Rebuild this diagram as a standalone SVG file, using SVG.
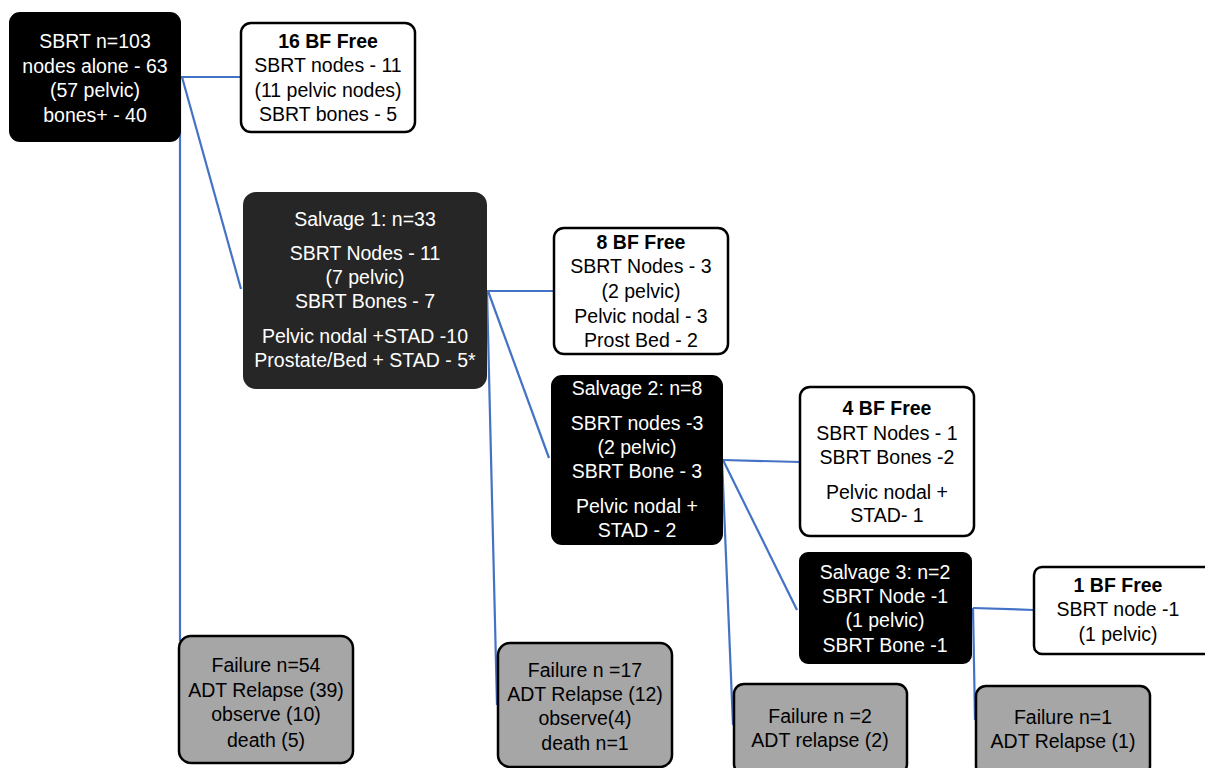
<svg xmlns="http://www.w3.org/2000/svg" width="1205" height="768" viewBox="0 0 1205 768">
<style>
text{font-family:"Liberation Sans",Arial,sans-serif;font-size:19.5px;text-anchor:middle}
.w text{fill:#fff}
.k text{fill:#000}
.b{font-weight:bold}
.dark{fill:#000;stroke:#000;stroke-width:2}
.dark2{fill:#262626;stroke:#262626;stroke-width:2}
.white{fill:#fff;stroke:#000;stroke-width:2.5}
.fail{fill:#a6a6a6;stroke:#000;stroke-width:2.5}
.c{stroke:#4472c4;stroke-width:2.2;fill:none}
</style>
<rect width="1205" height="768" fill="#fff"/>
<g id="connectors">
<path class="c" d="M181,77 H241"/>
<path class="c" d="M182,77 L241,289"/>
<path class="c" d="M180,77 V641"/>
<path class="c" d="M487,291 H554"/>
<path class="c" d="M488,291 L549,458"/>
<path class="c" d="M487,291 L497,705"/>
<path class="c" d="M723,460 L800,462"/>
<path class="c" d="M723,460 L797,610"/>
<path class="c" d="M722,460 L733,725"/>
<path class="c" d="M973,608 L1034,610"/>
<path class="c" d="M973,608 L975,720"/>
</g>
<g id="n-sbrt" class="w">
<rect class="dark" x="10" y="13" width="170" height="128" rx="10"/>
<text x="95" y="48">SBRT n=103</text>
<text x="95" y="73">nodes alone - 63</text>
<text x="95" y="97">(57 pelvic)</text>
<text x="95" y="122">bones+ - 40</text>
</g>
<g id="n-bf16" class="k">
<rect class="white" x="241" y="23" width="174" height="109" rx="10"/>
<text x="328" y="48" class="b">16 BF Free</text>
<text x="328" y="72">SBRT nodes - 11</text>
<text x="328" y="97">(11 pelvic nodes)</text>
<text x="328" y="121">SBRT bones - 5</text>
</g>
<g id="n-salv1" class="w">
<rect class="dark2" x="244" y="193" width="242" height="195" rx="12"/>
<text x="365" y="226">Salvage 1: n=33</text>
<text x="365" y="260">SBRT Nodes - 11</text>
<text x="365" y="284">(7 pelvic)</text>
<text x="365" y="308">SBRT Bones - 7</text>
<text x="365" y="343">Pelvic nodal +STAD -10</text>
<text x="365" y="367">Prostate/Bed + STAD - 5*</text>
</g>
<g id="n-bf8" class="k">
<rect class="white" x="554" y="228" width="174" height="126" rx="10"/>
<text x="641" y="249" class="b">8 BF Free</text>
<text x="641" y="273">SBRT Nodes - 3</text>
<text x="641" y="298">(2 pelvic)</text>
<text x="641" y="323">Pelvic nodal - 3</text>
<text x="641" y="347">Prost Bed - 2</text>
</g>
<g id="n-salv2" class="w">
<rect class="dark" x="552" y="376" width="170" height="168" rx="10"/>
<text x="637" y="395">Salvage 2: n=8</text>
<text x="637" y="430">SBRT nodes -3</text>
<text x="637" y="454">(2 pelvic)</text>
<text x="637" y="478">SBRT Bone - 3</text>
<text x="637" y="513">Pelvic nodal +</text>
<text x="637" y="537">STAD - 2</text>
</g>
<g id="n-bf4" class="k">
<rect class="white" x="800" y="387" width="174" height="149" rx="10"/>
<text x="887" y="415" class="b">4 BF Free</text>
<text x="887" y="440">SBRT Nodes - 1</text>
<text x="887" y="464">SBRT Bones -2</text>
<text x="887" y="499">Pelvic nodal  +</text>
<text x="887" y="522">STAD- 1</text>
</g>
<g id="n-salv3" class="w">
<rect class="dark" x="800" y="553" width="171" height="110" rx="8"/>
<text x="885" y="579">Salvage 3: n=2</text>
<text x="885" y="603">SBRT  Node -1</text>
<text x="885" y="627">(1 pelvic)</text>
<text x="885" y="652">SBRT Bone -1</text>
</g>
<g id="n-bf1" class="k">
<rect class="white" x="1034" y="567" width="180" height="87" rx="8"/>
<text x="1118" y="592" class="b">1 BF Free</text>
<text x="1118" y="616">SBRT node -1</text>
<text x="1118" y="641">(1 pelvic)</text>
</g>
<g id="n-fail1" class="k">
<rect class="fail" x="179" y="636" width="174" height="127" rx="12"/>
<text x="266" y="672">Failure n=54</text>
<text x="266" y="697">ADT Relapse (39)</text>
<text x="266" y="721">observe (10)</text>
<text x="266" y="747">death (5)</text>
</g>
<g id="n-fail2" class="k">
<rect class="fail" x="498" y="643" width="174" height="124" rx="12"/>
<text x="585" y="677">Failure n =17</text>
<text x="585" y="701">ADT Relapse (12)</text>
<text x="585" y="725">observe(4)</text>
<text x="585" y="750">death n=1</text>
</g>
<g id="n-fail3" class="k">
<rect class="fail" x="734" y="684" width="173" height="90" rx="10"/>
<text x="820" y="723">Failure n =2</text>
<text x="820" y="747">ADT relapse (2)</text>
</g>
<g id="n-fail4" class="k">
<rect class="fail" x="976" y="686" width="174" height="90" rx="10"/>
<text x="1063" y="724">Failure n=1</text>
<text x="1063" y="748">ADT Relapse (1)</text>
</g>
</svg>
